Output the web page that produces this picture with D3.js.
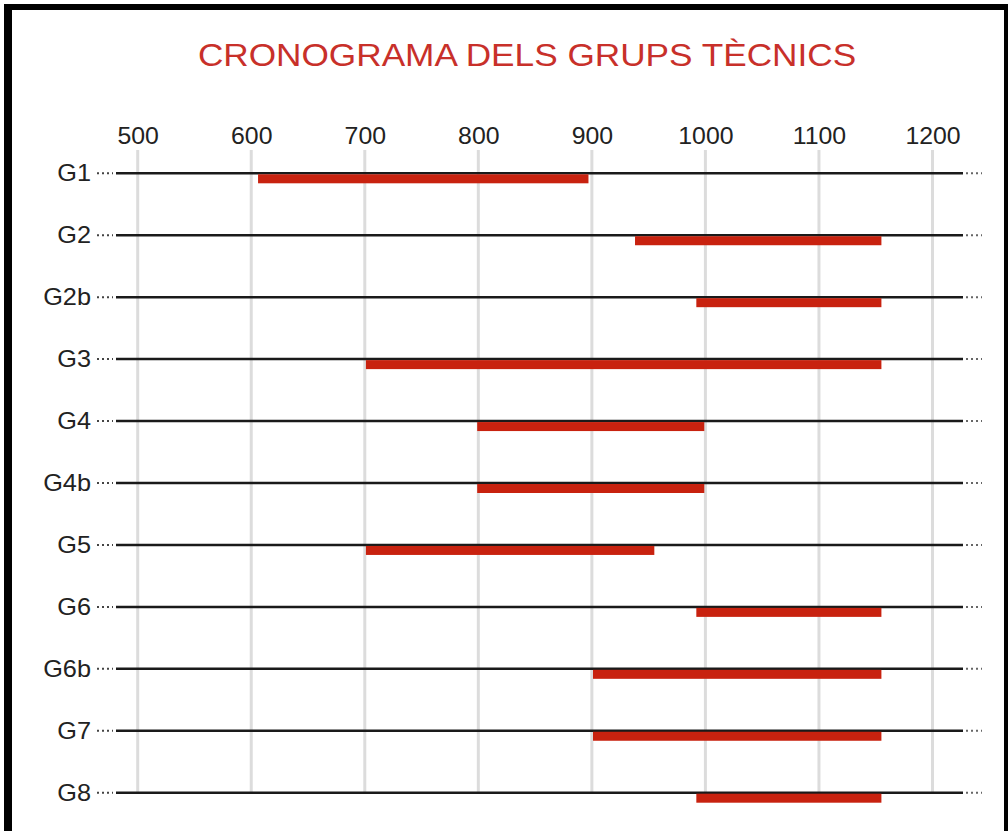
<!DOCTYPE html>
<html>
<head>
<meta charset="utf-8">
<script src="https://cdn.jsdelivr.net/npm/d3@7"></script>
<style>
  body { margin: 0; background: #fff; }
  svg { display: block; }
</style>
</head>
<body>
<svg id="vis" width="1008" height="831"></svg>
<script>
// groups and their periods (start / end year)
const groups = ["G1", "G2", "G2b", "G3", "G4", "G4b", "G5", "G6", "G6b", "G7", "G8"]
const starts = [606, 938, 992, 701, 799, 799, 701, 992, 901, 901, 992]
const ends   = [897, 1155, 1155, 1155, 999, 999, 955, 1155, 1155, 1155, 1155]
const ticks  = [500, 600, 700, 800, 900, 1000, 1100, 1200]

const data = groups.map((g, i) => ({ name: g, start: starts[i], end: ends[i] }))

const font = "Liberation Sans, Arial, sans-serif"
const svg = d3.select("#vis")

// frame
svg.append("rect").attr("x", 4).attr("y", 4).attr("width", 1000).attr("height", 6).attr("fill", "#000")
svg.append("rect").attr("x", 4).attr("y", 4).attr("width", 8).attr("height", 827).attr("fill", "#000")
svg.append("rect").attr("x", 1004).attr("y", 4).attr("width", 4).attr("height", 827).attr("fill", "#000")

// text in the original is a bit stretched sideways
svg.append("text")
    .attr("transform", "translate(527,66) scale(1.1,1)")
    .attr("text-anchor", "middle")
    .style("font-family", font)
    .style("font-size", "32px")
    .attr("fill", "#c8302a")
    .text("CRONOGRAMA DELS GRUPS TÈCNICS")

const x = d3.scaleLinear().domain([500, 1200]).range([137.7, 932.5])
const y = d3.scalePoint().domain(groups).range([173.3, 792.7])

// vertical grid
svg.append("g").selectAll("line")
    .data(ticks)
    .join("line")
    .attr("x1", d => x(d)).attr("x2", d => x(d))
    .attr("y1", 150).attr("y2", y("G8"))
    .attr("stroke", "#dcdcdc")
    .attr("stroke-width", 3)

// top axis labels
const axis = svg.append("g")
    .attr("transform", "translate(0,144)")
    .call(d3.axisTop(x).tickValues(ticks).tickSize(0).tickPadding(0).tickFormat(d3.format("d")))
axis.select(".domain").remove()
axis.selectAll("text")
    .style("font-family", font)
    .style("font-size", "23px")
    .attr("fill", "#222")
    .attr("dy", 0)
    .attr("transform", "scale(1.08,1)")

const rows = svg.append("g").selectAll("g")
    .data(data)
    .join("g")
    .attr("transform", d => `translate(0,${y(d.name)})`)

rows.append("line")
    .attr("x1", 116).attr("x2", 963)
    .attr("stroke", "#1a1a1a")
    .attr("stroke-width", 2.5)

// dotted leaders both sides
rows.append("line")
    .attr("x1", 97).attr("x2", 113)
    .attr("stroke", "#444").attr("stroke-width", 2)
    .attr("stroke-dasharray", "2,3")
rows.append("line")
    .attr("x1", 966).attr("x2", 982)
    .attr("stroke", "#666").attr("stroke-width", 2)
    .attr("stroke-dasharray", "2,3")

rows.append("text")
    .attr("transform", "translate(91,8) scale(1.1,1)")
    .attr("text-anchor", "end")
    .style("font-family", font)
    .style("font-size", "23px")
    .attr("fill", "#222")
    .text(d => d.name)

rows.append("rect")
    .attr("x", d => x(d.start))
    .attr("y", 1)
    .attr("width", d => x(d.end) - x(d.start))
    .attr("height", 9)
    .attr("fill", "#c8220f")
</script>
</body>
</html>
